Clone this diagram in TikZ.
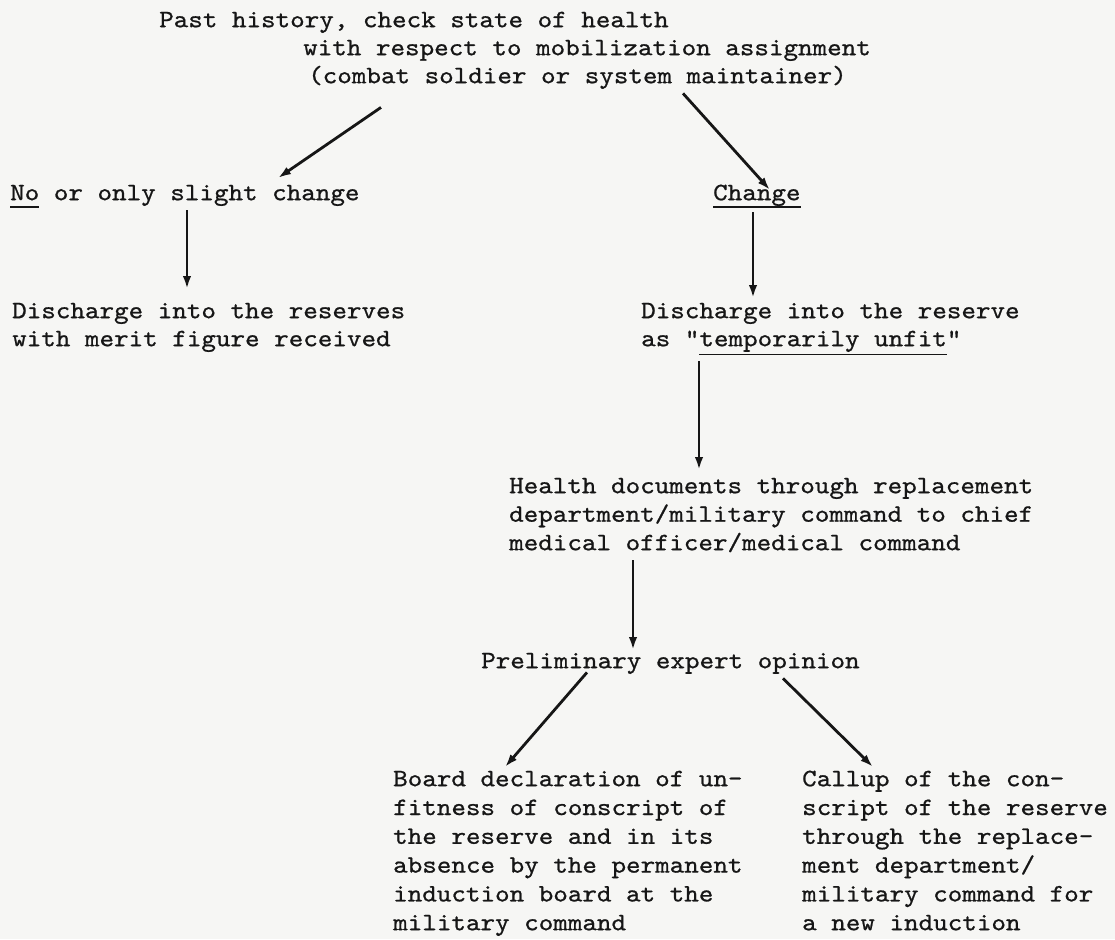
\documentclass[tikz,border=0pt]{standalone}
\usepackage{fontspec}
\usetikzlibrary{arrows.meta}
\newfontfamily\tw{lmmono10-regular.otf}[FakeStretch=1.109,FakeBold=0.8]
\definecolor{paper}{RGB}{246,246,244}
\definecolor{ink}{RGB}{22,22,22}
\newsavebox\ulbox
\newcommand\myul[2][7.6pt]{\sbox\ulbox{#2}\rlap{\rule[-#1]{\wd\ulbox}{1.4pt}}\usebox\ulbox}
\newcommand\mystrut{\rule[-8.4pt]{0pt}{28pt}}
\tikzset{
  txt/.style={anchor=north west, inner sep=0pt, align=left, text=ink,
    font=\tw\fontsize{25}{28}\selectfont},
  txtb/.style={txt, font=\tw\fontsize{25}{28.5}\selectfont},
  txtc/.style={txt, font=\tw\fontsize{25}{28.8}\selectfont},
  arr/.style={draw=ink, line width=2.8pt, -{Latex[length=13pt,width=8.5pt]}},
}
\begin{document}
\begin{tikzpicture}[x=1pt,y=-1pt]
\fill[paper] (0,0) rectangle (1115,939);
\useasboundingbox (0,0) rectangle (1115,939);

\node[txt] (top) at (159,7.4) {\mystrut Past history, check state of health\\
\hspace*{144pt}with respect to mobilization assignment\\
\hspace*{149pt}(combat soldier or system maintainer)\mystrut};

\node[txt] (no) at (10,180.4) {\mystrut\myul{No} or only slight change};
\node[txt] (chg) at (713,180.4) {\mystrut\myul{Change}};

\node[txt] (dL) at (12,298.4) {\mystrut Discharge into the reserves\\
with merit figure received\mystrut};
\node[txt] (dR) at (641,298.4) {\mystrut Discharge into the reserve\\
as "\myul[9pt]{temporarily unfit}"\mystrut};

\node[txtb] (health) at (509,473.4) {\mystrut Health documents through replacement\\
department/military command to chief\\
medical officer/medical command\mystrut};

\node[txt] (prelim) at (481,648.4) {\mystrut Preliminary expert opinion};

\node[txtc] (board) at (393,766.4) {\mystrut Board declaration of un-\\
fitness of conscript of\\
the reserve and in its\\
absence by the permanent\\
induction board at the\\
military command\mystrut};

\node[txtc] (callup) at (802,766.4) {\mystrut Callup of the con-\\
script of the reserve\\
through the replace-\\
ment department/\\
military command for\\
a new induction\mystrut};

\draw[arr] ([shift={(222,15.6)}]top.south west) -- ([shift={(268,-2.4)}]no.north west);
\draw[arr] ([shift={(524,1.6)}]top.south west) -- ([shift={(57,9.6)}]chg.north west);
\draw[arr] ([shift={(177,1.6)}]no.south west) -- ([shift={(175,-9.4)}]dL.north west);
\draw[arr] ([shift={(40,3.6)}]chg.south west) -- ([shift={(112,-0.4)}]dR.north west);
\draw[arr] ([shift={(58,5.6)}]dR.south west) -- ([shift={(190,-3.4)}]health.north west);
\draw[arr] ([shift={(124,1.6)}]health.south west) -- ([shift={(152,1.6)}]prelim.north west);
\draw[arr] ([shift={(106,-4.4)}]prelim.south west) -- ([shift={(112,0.6)}]board.north west);
\draw[arr] ([shift={(302,1.6)}]prelim.south west) -- ([shift={(71,0.6)}]callup.north west);
\end{tikzpicture}
\end{document}
